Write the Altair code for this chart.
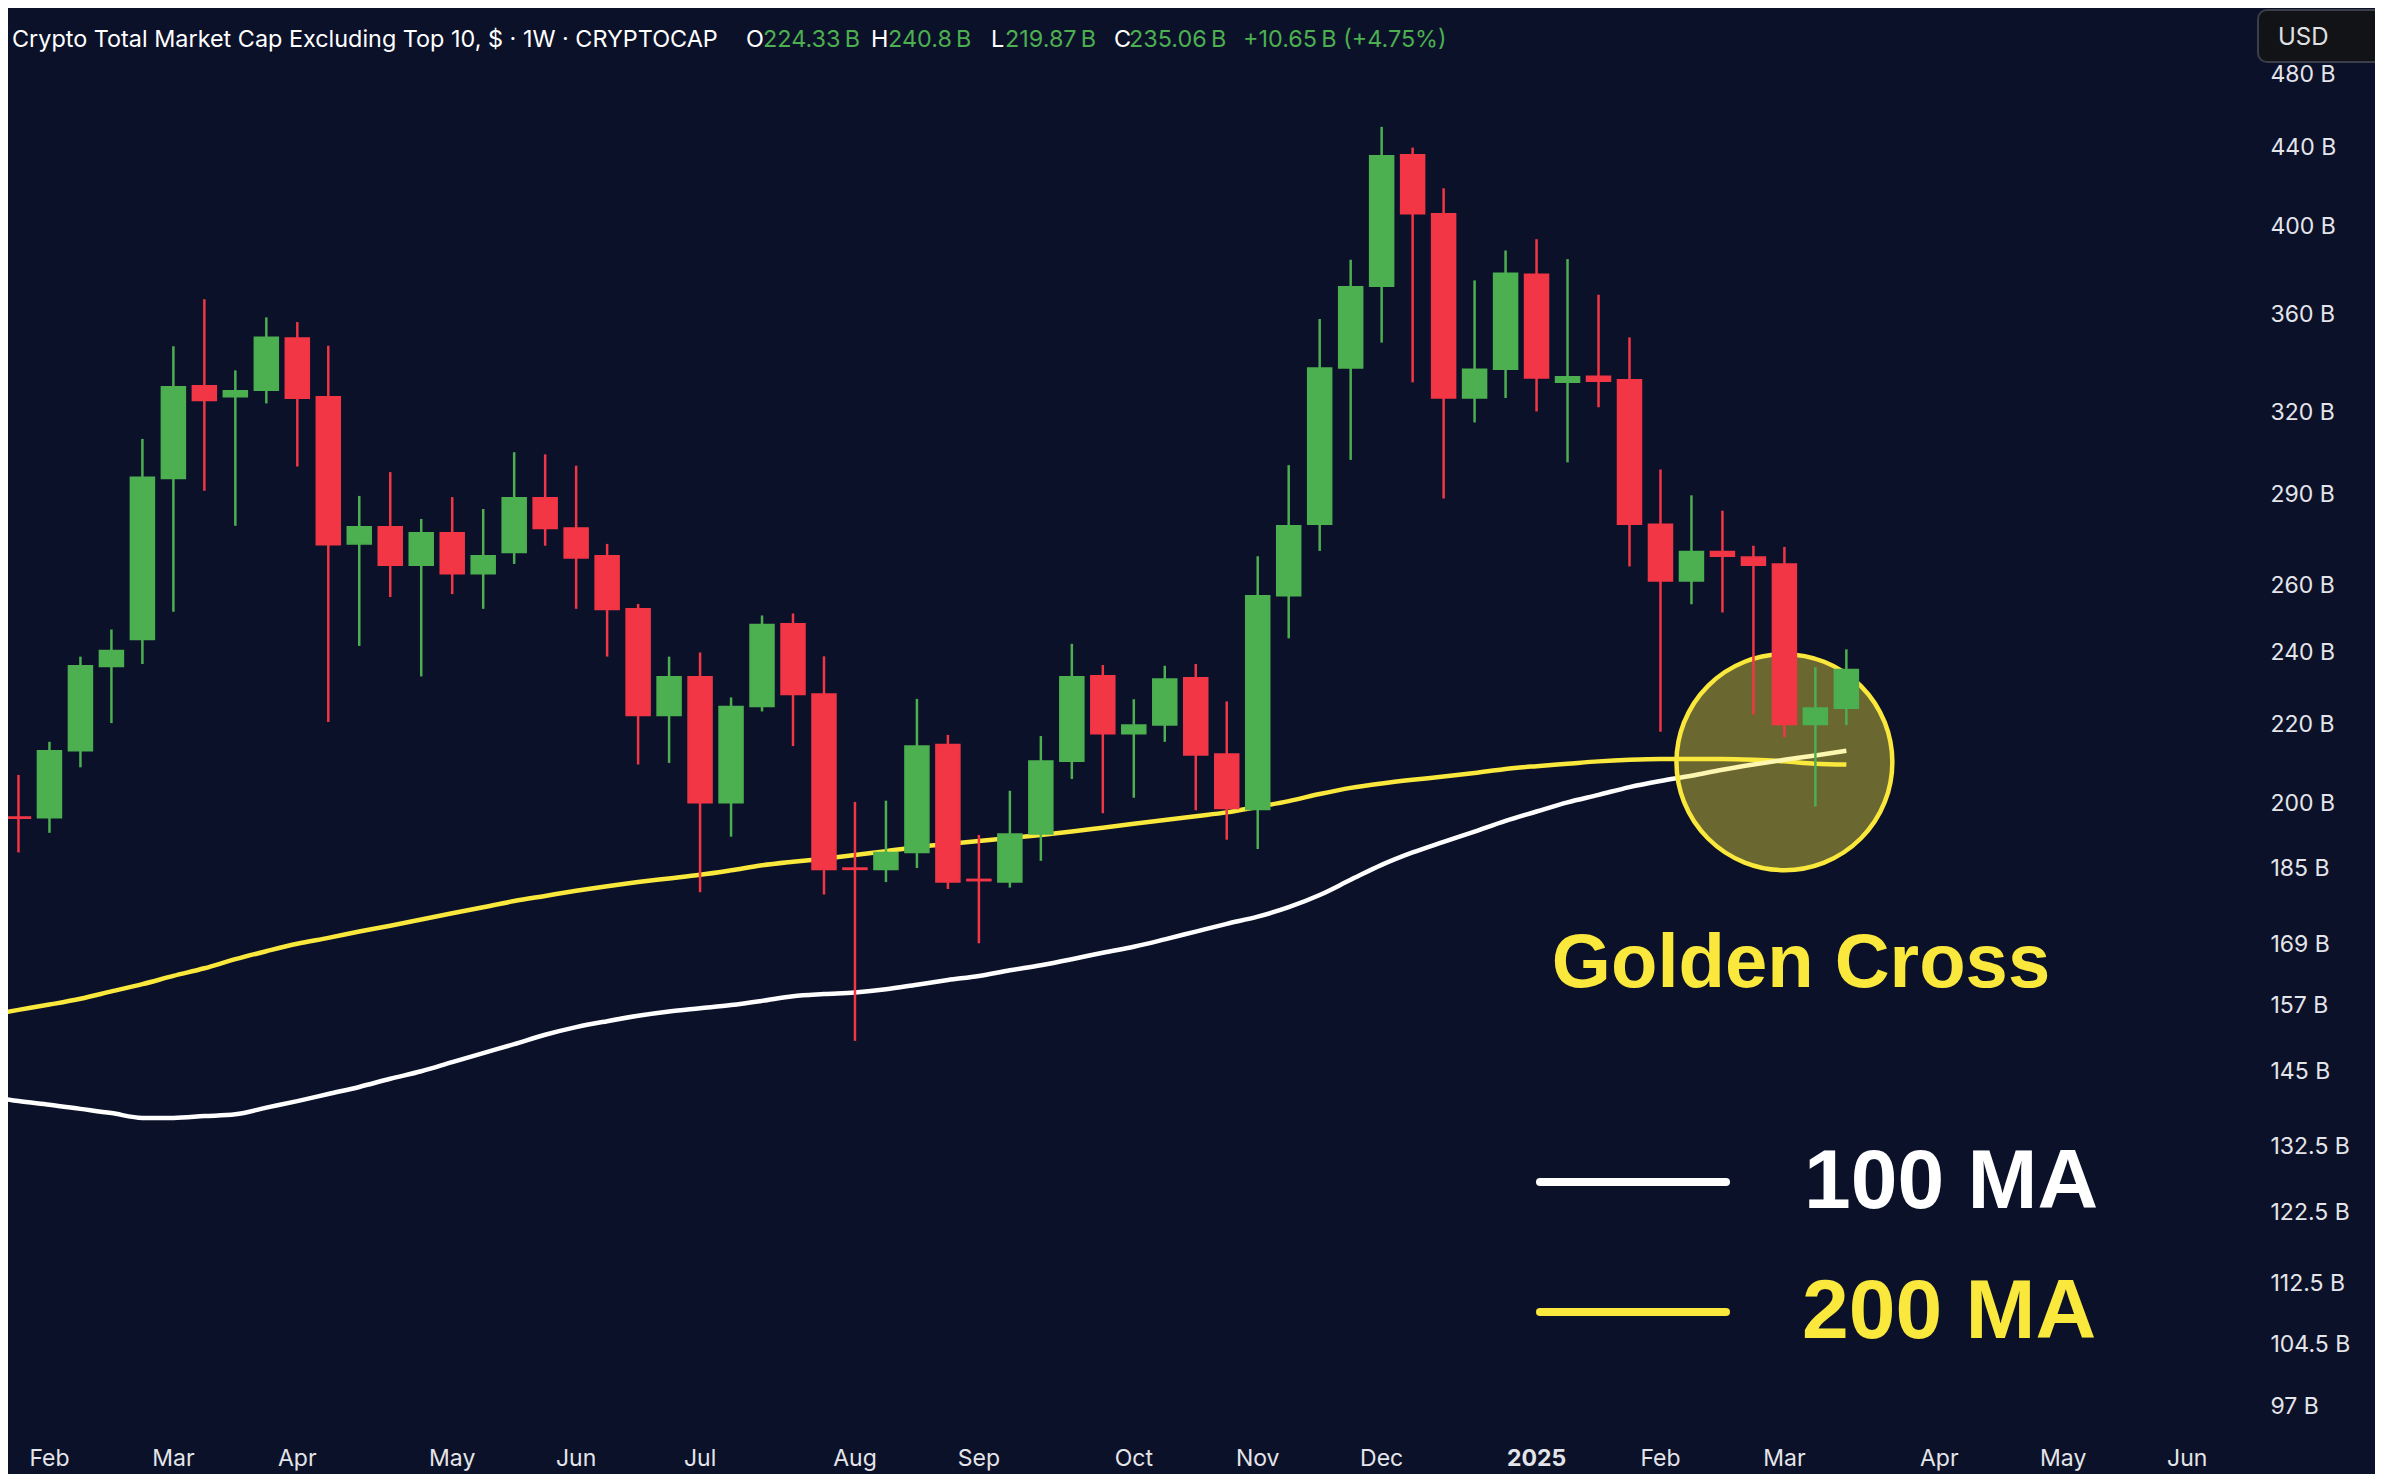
import altair as alt
import pandas as pd

# ---------------- data ----------------
first_week = "2024-01-29"
opens = [196.9, 196.7, 213.2, 235.9, 243.7, 295.6, 330.4, 326.1, 328.7, 349.9,
         326.1, 273.3, 279.0, 266.4, 277.0, 263.7, 270.5, 288.9, 278.6, 269.4,
         252.8, 222.4, 233.0, 200.3, 224.8, 248.3, 228.2, 185.2, 184.9, 188.7,
         214.8, 182.7, 182.1, 192.9, 210.5, 233.3, 217.6, 219.9, 232.7, 212.4,
         198.7, 256.8, 279.8, 337.6, 372.4, 436.0, 406.2, 325.6, 337.0, 377.8,
         331.8, 334.2, 332.8, 279.8, 261.4, 270.8, 269.0, 266.8, 220.0, 224.33]
highs = [207.1, 215.5, 238.7, 246.6, 310.0, 346.5, 366.6, 336.6, 358.7, 356.7,
         346.7, 289.5, 297.9, 281.6, 289.1, 285.0, 305.1, 304.3, 300.2, 273.3,
         254.3, 238.7, 239.9, 227.3, 250.8, 251.4, 238.8, 200.5, 200.8, 226.9,
         217.3, 192.7, 203.2, 217.0, 242.4, 236.3, 226.8, 236.1, 236.6, 226.2,
         269.3, 300.4, 358.0, 384.4, 450.9, 439.8, 418.8, 375.0, 388.7, 394.0,
         384.7, 368.6, 350.2, 298.8, 289.7, 284.4, 272.7, 272.3, 235.7, 240.8]
lows = [188.7, 193.2, 209.0, 220.4, 236.6, 251.9, 291.3, 279.3, 323.5, 299.9,
        220.7, 241.8, 256.4, 233.1, 257.3, 252.8, 266.8, 272.7, 252.8, 238.7,
        209.7, 210.1, 179.9, 192.3, 223.5, 214.4, 179.4, 150.5, 182.1, 185.2,
        180.6, 169.2, 180.9, 186.8, 206.1, 197.8, 201.5, 215.5, 198.5, 191.6,
        189.5, 244.0, 271.0, 302.3, 348.0, 331.8, 288.6, 316.2, 325.6, 320.4,
        301.4, 322.0, 266.0, 218.1, 254.2, 251.7, 222.7, 216.7, 199.4, 219.87]
closes = [196.6, 213.2, 236.1, 240.5, 296.1, 330.0, 324.6, 328.5, 350.3, 325.5,
          273.0, 279.0, 266.4, 277.0, 263.7, 269.4, 288.9, 278.4, 268.7, 252.6,
          222.4, 233.0, 200.3, 224.8, 248.1, 228.1, 184.9, 184.9, 188.7, 214.4,
          182.1, 182.4, 192.9, 210.6, 233.0, 217.6, 219.9, 232.4, 212.1, 198.9,
          256.8, 279.3, 337.6, 372.1, 435.5, 406.2, 325.6, 337.0, 378.2, 333.5,
          334.0, 332.2, 279.8, 261.4, 270.8, 269.3, 266.4, 220.0, 224.4, 235.06]

ma_first_week = "2024-01-22"
ma100 = [140.9, 140.0, 139.4, 138.7, 138.0, 137.2, 137.2, 137.5, 137.8, 138.9,
         140.0, 141.2, 142.4, 143.8, 145.1, 146.7, 148.3, 149.9, 151.6, 153.0,
         154.1, 155.1, 155.9, 156.5, 157.1, 157.9, 158.8, 159.2, 159.5, 160.1,
         161.0, 161.9, 162.7, 163.8, 164.8, 166.0, 167.3, 168.5, 170.0, 171.6,
         173.2, 174.7, 176.7, 179.3, 182.6, 185.9, 188.7, 191.1, 193.5, 196.0,
         198.2, 200.4, 202.2, 204.1, 205.6, 206.9, 208.4, 209.7, 210.9, 212.0, 213.2]
ma200 = [155.2, 156.2, 157.2, 158.3, 159.7, 161.1, 162.7, 164.2, 166.0, 167.6,
         169.1, 170.3, 171.6, 172.8, 174.1, 175.4, 176.7, 178.0, 179.1, 180.2,
         181.2, 182.1, 182.9, 183.7, 184.7, 185.8, 186.6, 187.3, 188.1, 189.0,
         189.9, 190.6, 191.3, 192.0, 192.7, 193.5, 194.4, 195.3, 196.2, 197.1,
         198.0, 199.3, 200.7, 202.4, 203.9, 205.0, 205.9, 206.7, 207.6, 208.6,
         209.3, 209.9, 210.5, 210.9, 211.1, 211.1, 211.1, 210.9, 210.5, 209.9, 209.7]

tick_dates = ["2024-02-05", "2024-03-04", "2024-04-01", "2024-05-06", "2024-06-03",
              "2024-07-01", "2024-08-05", "2024-09-02", "2024-10-07", "2024-11-04",
              "2024-12-02", "2025-01-06", "2025-02-03", "2025-03-03", "2025-04-07",
              "2025-05-05", "2025-06-02"]
tick_labels = ["Feb", "Mar", "Apr", "May", "Jun", "Jul", "Aug", "Sep", "Oct", "Nov",
               "Dec", "2025", "Feb", "Mar", "Apr", "May", "Jun"]
year_labels = ["2025"]

y_ticks = [480, 440, 400, 360, 320, 290, 260, 240, 220, 200, 185, 169, 157, 145,
           132.5, 122.5, 112.5, 104.5, 97]

cross_week = "2025-03-03"
cross_value = 210.3

title_text = "Crypto Total Market Cap Excluding Top 10, $ \u00b7 1W \u00b7 CRYPTOCAP"
ohlc_keys = ["O", "H", "L", "C"]
ohlc_vals = ["224.33\u2009B", "240.8\u2009B", "219.87\u2009B", "235.06\u2009B"]
change_text = "+10.65\u2009B (+4.75%)"

# ---------------- styles ----------------
BG = "#0b1129"
GREEN = "#4caf50"
RED = "#f23645"
YELLOW = "#fae83c"
WHITE = "#ffffff"
LABEL = "#e4e5ea"
FONT = "Inter"
BIGFONT = "Liberation Sans"

DAY = 86400000


def ms(d):
    return int(pd.Timestamp(d).value // 10**6)


t0 = ms(first_week)
x_domain = [t0 - int(0.1767 * 7 * DAY), t0 + int(71.867 * 7 * DAY)]
y_domain = [94.33, 520.04]

weeks = pd.date_range(first_week, periods=len(opens), freq="7D")
candles = pd.DataFrame({
    "t": weeks.asi8 // 10**6,
    "open": opens, "high": highs, "low": lows, "close": closes,
})
candles["dir"] = ["up" if c >= o else "down" for o, c in zip(opens, closes)]

ma_weeks = pd.date_range(ma_first_week, periods=len(ma100), freq="7D")
ma_df = pd.DataFrame({"t": ma_weeks.asi8 // 10**6, "ma100": ma100, "ma200": ma200})

ticks_df = pd.DataFrame({"t": [ms(d) for d in tick_dates], "label": tick_labels})
ticks_df["year"] = ticks_df["label"].isin(year_labels)

cross_df = pd.DataFrame({"t": [ms(cross_week)], "v": [cross_value]})
one = pd.DataFrame({"k": [0]})

xs = alt.Scale(type="utc", domain=x_domain)
ys = alt.Scale(type="log", domain=y_domain, nice=False, zero=False)
X = alt.X("t:T", scale=xs, axis=None)
col = alt.Color("dir:N", scale=alt.Scale(domain=["up", "down"], range=[GREEN, RED]), legend=None)
stk = alt.Stroke("dir:N", scale=alt.Scale(domain=["up", "down"], range=[GREEN, RED]), legend=None)

yaxis = alt.Axis(orient="right", values=y_ticks, labelExpr="datum.value + ' B'",
                 ticks=False, domain=False, grid=False, labelPadding=20,
                 labelFontSize=23, labelColor=LABEL, labelFont=FONT,
                 labelOverlap=False, labelFlush=False, title=None)


def Y(field):
    return alt.Y(field, scale=ys, axis=yaxis)


line200 = alt.Chart(ma_df).mark_line(color=YELLOW, strokeWidth=4.5, clip=True,
                                     interpolate="monotone").encode(x=X, y=Y("ma200:Q"))
line100 = alt.Chart(ma_df).mark_line(color=WHITE, strokeWidth=4.5, clip=True,
                                     interpolate="monotone").encode(x=X, y=Y("ma100:Q"))

circle = alt.Chart(cross_df).mark_point(shape="circle", filled=True, size=46600,
                                        fill=YELLOW, fillOpacity=0.4, stroke=YELLOW,
                                        strokeWidth=4.5, strokeOpacity=1, opacity=1).encode(
    x=X, y=Y("v:Q"))

wicks = alt.Chart(candles).mark_rule(strokeWidth=2.5, clip=True).encode(
    x=X, y=Y("low:Q"), y2="high:Q", color=col)

bodies = alt.Chart(candles).mark_bar(size=24, clip=True, strokeWidth=1.5).encode(
    x=X, y=Y("open:Q"), y2="close:Q", color=col, stroke=stk)

XLY = 1451
xlab = alt.Chart(ticks_df).transform_filter("!datum.year").mark_text(
    font=FONT, fontSize=23, color=LABEL, align="center", baseline="middle").encode(
    x=X, y=alt.value(XLY), text="label:N")
xlab_year = alt.Chart(ticks_df).transform_filter("datum.year").mark_text(
    font=FONT, fontSize=23, fontWeight="bold", color=LABEL, align="center",
    baseline="middle").encode(x=X, y=alt.value(XLY), text="label:N")

golden = alt.Chart(one).mark_text(text="Golden Cross", font=BIGFONT, fontSize=76,
                                  fontWeight="bold", color=YELLOW, align="center",
                                  baseline="middle").encode(
    x=alt.value(1793), y=alt.value(956))

leg_rule100 = alt.Chart(one).mark_rule(color=WHITE, strokeWidth=8, strokeCap="round").encode(
    x=alt.value(1532), x2=alt.value(1718), y=alt.value(1174))
leg_rule200 = alt.Chart(one).mark_rule(color=YELLOW, strokeWidth=8, strokeCap="round").encode(
    x=alt.value(1532), x2=alt.value(1718), y=alt.value(1304))
leg_txt100 = alt.Chart(one).mark_text(text="100 MA", font=BIGFONT, fontSize=84,
                                      fontWeight="bold", color=WHITE, align="left",
                                      baseline="middle").encode(
    x=alt.value(1796), y=alt.value(1175))
leg_txt200 = alt.Chart(one).mark_text(text="200 MA", font=BIGFONT, fontSize=84,
                                      fontWeight="bold", color=YELLOW, align="left",
                                      baseline="middle").encode(
    x=alt.value(1794), y=alt.value(1305))

HY = 32
HF = 23.4
header = [alt.Chart(one).mark_text(text=title_text, font=FONT, fontSize=HF, color=WHITE,
                                   align="left", baseline="middle").encode(
    x=alt.value(4), y=alt.value(HY))]
key_x = [738, 863, 983, 1106]
val_x = [755, 880, 997, 1121]
for k, kx, v, vx in zip(ohlc_keys, key_x, ohlc_vals, val_x):
    header.append(alt.Chart(one).mark_text(text=k, font=FONT, fontSize=HF, color=WHITE,
                                           align="left", baseline="middle").encode(
        x=alt.value(kx), y=alt.value(HY)))
    header.append(alt.Chart(one).mark_text(text=v, font=FONT, fontSize=HF, color=GREEN,
                                           align="left", baseline="middle").encode(
        x=alt.value(vx), y=alt.value(HY)))
header.append(alt.Chart(one).mark_text(text=change_text, font=FONT, fontSize=HF, color=GREEN,
                                       align="left", baseline="middle").encode(
    x=alt.value(1235), y=alt.value(HY)))

usd_box = alt.Chart(one).mark_rect(fill="#121316", stroke="#3b3e47", strokeWidth=2,
                                   cornerRadius=9).encode(
    x=alt.value(2250), x2=alt.value(2385), y=alt.value(2), y2=alt.value(54))
usd_txt = alt.Chart(one).mark_text(text="USD", font=FONT, fontSize=24, color="#e0e1e5",
                                   align="left", baseline="middle").encode(
    x=alt.value(2270), y=alt.value(30))

chart = alt.layer(
    line200, line100, circle, wicks, bodies, xlab, xlab_year, golden,
    leg_rule100, leg_rule200, leg_txt100, leg_txt200, *header, usd_box, usd_txt
).properties(
    width=2242, height=1422,
    autosize=alt.AutoSizeParams(type="none"),
    padding={"left": 0, "top": 0, "right": 125, "bottom": 44},
).configure(background=BG).configure_view(strokeWidth=0)

chart.save("out.html", embed_options={"renderer": "svg", "actions": False})
